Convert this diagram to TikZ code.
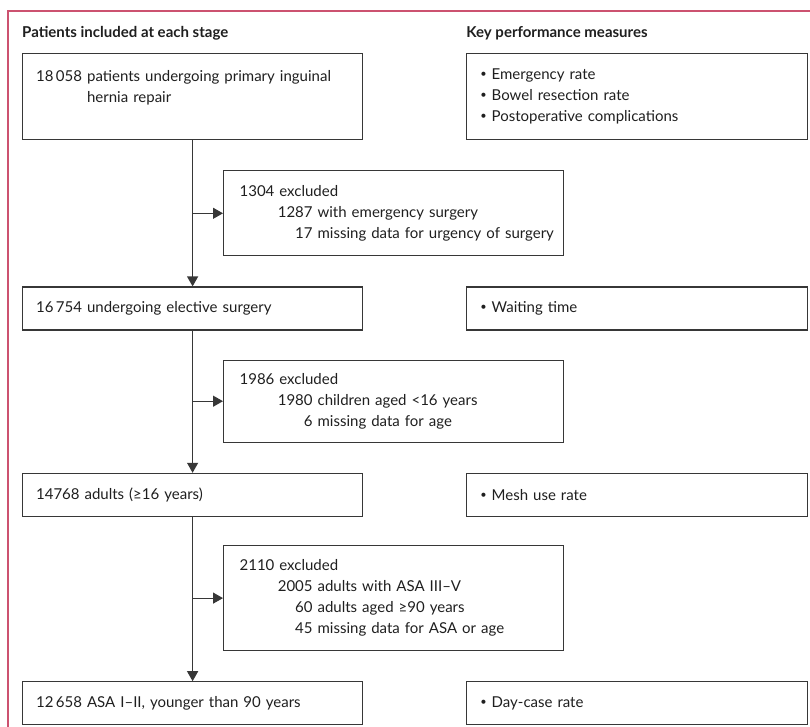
\documentclass[tikz,border=0pt]{standalone}
\usepackage{fontspec}
\setmainfont{Lato}
\usetikzlibrary{positioning,arrows.meta}
\tikzset{>={Triangle[length=10pt,width=11pt]}}
\definecolor{framepink}{RGB}{204,82,112}
\definecolor{linegray}{RGB}{55,55,55}
\newcommand{\exclrow}[2]{\mbox{\makebox[73pt][r]{#1} #2}}
\newcommand{\kpmitem}{\raisebox{0.25ex}{\fontsize{11}{11}\selectfont\textbullet}\ }

\begin{document}
\begin{tikzpicture}[
        x=1pt,
        y=1pt,
        every node/.style={
            font=\fontsize{15}{21}\selectfont,
            text=black!88,
          },
        box/.style={
            draw=linegray,
            line width=1.2pt,
            align=left,
            inner xsep=13.5pt,
            inner ysep=0pt,
          },
        stage/.style={
            box,
            text width=313pt,
            minimum height=43pt,
          },
        keybox/.style={
            box,
            text width=314pt,
            minimum height=43pt,
          },
        exclbox/.style={
            box,
            inner xsep=16pt,
            text width=308pt,
          },
        heading/.style={
            font=\fontsize{15}{21}\selectfont\bfseries,
            inner sep=0pt,
          },
        flow/.style={
            ->,
            draw=linegray,
            line width=1.2pt,
          },
      ]
      \useasboundingbox (0,0) rectangle (810,-727);
      \draw[framepink, line width=1.3pt] (8,-727) -- (8,-11) -- (810,-11);

      \node [
        stage,
        minimum height=86pt,
        anchor=north west
      ] (total) at (22,-53) {18\,058 patients undergoing primary inguinal\\\phantom{18\,058 }hernia repair\\\mbox{}};
      \node [
        exclbox,
        minimum height=85pt,
        below right=30pt and 201pt of total.south west
      ] (excl1) {1304 excluded\\\exclrow{1287}{with emergency surgery}\\\exclrow{17}{missing data for urgency of surgery}};
      \node [
        stage,
        below=30pt of excl1.south west,
        anchor=north west,
        xshift=-201pt
      ] (elective) {16\,754 undergoing elective surgery};
      \node [
        exclbox,
        minimum height=82pt,
        below right=29pt and 201pt of elective.south west
      ] (excl2) {1986 excluded\\\exclrow{1980}{children aged <16 years}\\\exclrow{6}{missing data for age}};
      \node [
        stage,
        below=30pt of excl2.south west,
        anchor=north west,
        xshift=-201pt
      ] (adults) {14768 adults (≥16 years)};
      \node [
        exclbox,
        minimum height=105pt,
        below right=28pt and 201pt of adults.south west
      ] (excl3) {2110 excluded\\\exclrow{2005}{adults with ASA III–V}\\\exclrow{60}{adults aged ≥90 years}\\\exclrow{45}{missing data for ASA or age}};
      \node [
        stage,
        below=30pt of excl3.south west,
        anchor=north west,
        xshift=-201pt
      ] (asa) {12\,658 ASA I–II, younger than 90 years};

      % key performance measures
      \node [
        keybox,
        minimum height=86pt,
        right=103pt of total
      ] (kpm1) {\kpmitem Emergency rate\\\kpmitem Bowel resection rate\\\kpmitem Postoperative complications};
      \node [
        keybox,
        right=103pt of elective
      ] (kpm2) {\kpmitem Waiting time};
      \node [
        keybox,
        right=103pt of adults
      ] (kpm3) {\kpmitem Mesh use rate};
      \node [
        keybox,
        right=103pt of asa
      ] (kpm4) {\kpmitem Day-case rate};

      \node [
        heading,
        above=15pt of total.north west,
        anchor=base west
      ] (stagehead) {Patients included at each stage};
      \node [
        heading,
        above=15pt of kpm1.north west,
        anchor=base west
      ] (kpmhead) {Key performance measures};

      \draw[flow] (elective.north |- total.south) -- (elective.north);
      \draw[flow] (elective.north |- excl1.west) -- (excl1.west);
      \draw[flow] (elective.south) -- (adults.north);
      \draw[flow] (elective.south |- excl2.west) -- (excl2.west);
      \draw[flow] (adults.south) -- (asa.north);
      \draw[flow] (adults.south |- excl3.west) -- (excl3.west);
    \end{tikzpicture}
\end{document}
